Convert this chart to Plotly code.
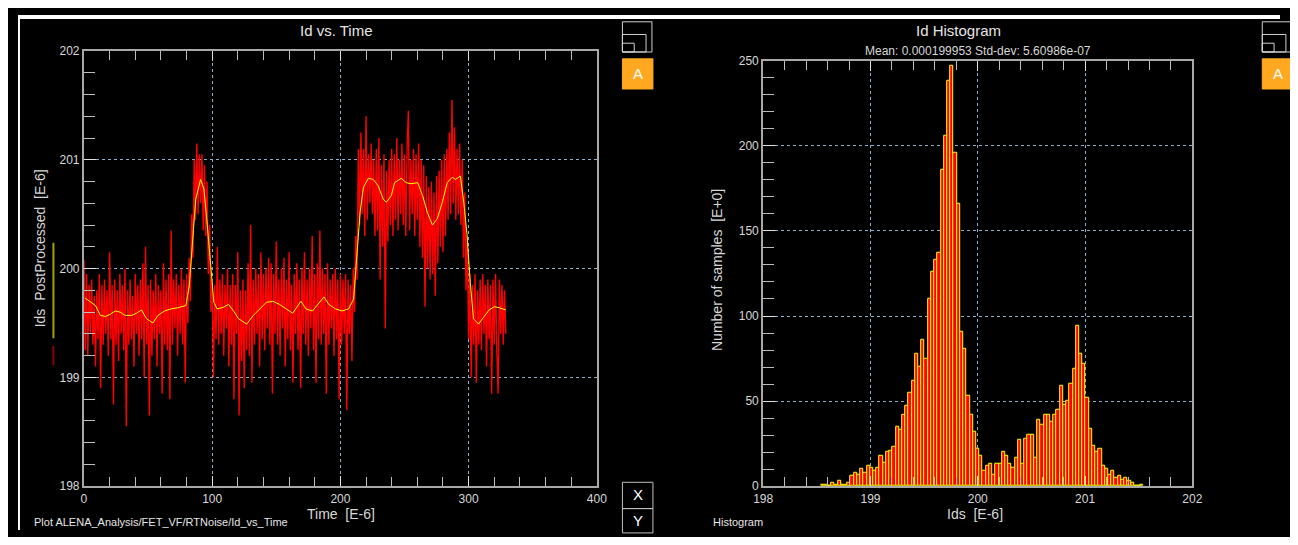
import plotly.graph_objects as go

# page is 1298x545; the browser keeps its default 8px body margin
PAGE_W, PAGE_H = 1298, 545
OX, OY = 8, 8
W, H = PAGE_W - 2 * OX, PAGE_H - 2 * OY

# ---------------- data ----------------
# Smoothed (PostProcessed) trace
smooth_time = [0.8, 9, 12.8, 16.7, 20.5, 24.4, 28.2, 32, 37.2, 41, 44.9, 48.7, 53.8, 57.7, 62.8, 68,
               73.1, 79.5, 82.1, 84.6, 87.2, 91, 93.6, 96.2, 98.7, 101.3, 103.8, 107.7, 112.8, 116.7,
               120.5, 126.9, 132.1, 137.2, 142.3, 147.4, 152.6, 157.7, 162.8, 169.2, 173.1, 178.2,
               183.3, 187.2, 191, 196.2, 201.3, 206.4, 210.3, 212.8, 215.4, 218, 221.8, 225.6, 229.5,
               233.3, 235.9, 239.7, 242.3, 247.4, 251.3, 255.1, 260.3, 264.1, 268, 271.8, 275.6,
               279.5, 283.3, 287.2, 289.7, 293.6, 296.2, 298.7, 301.3, 303.8, 307.7, 311.5, 316,
               320, 324, 329]
smooth_vals = [199.73, 199.66, 199.57, 199.56, 199.58, 199.61, 199.60, 199.57, 199.57, 199.59, 199.62,
               199.54, 199.50, 199.57, 199.61, 199.63, 199.64, 199.66, 199.84, 200.25, 200.64, 200.82,
               200.73, 200.40, 200.05, 199.69, 199.63, 199.64, 199.67, 199.61, 199.54, 199.49, 199.57,
               199.63, 199.69, 199.70, 199.67, 199.63, 199.59, 199.70, 199.63, 199.61, 199.69, 199.74,
               199.67, 199.63, 199.61, 199.63, 199.72, 200.11, 200.52, 200.75, 200.83, 200.82, 200.76,
               200.64, 200.61, 200.67, 200.79, 200.83, 200.79, 200.78, 200.79, 200.67, 200.51, 200.40,
               200.46, 200.61, 200.79, 200.84, 200.82, 200.85, 200.61, 200.32, 199.87, 199.54, 199.49,
               199.55, 199.62, 199.65, 199.64, 199.62]

# Raw Ids trace (one value per microsecond)
raw_vals = [
    200.08, 199.25, 199.95, 199.2, 199.85, 199.4, 199.9, 199.3, 199.75, 199.1,
    199.8, 199.35, 199.95, 198.9, 199.85, 199.3, 199.9, 199.4, 199.8, 199.2,
    200.15, 199.35, 199.85, 198.75, 199.9, 199.3, 199.8, 199.15, 199.95, 199.4,
    199.85, 199.25, 200.0, 198.55, 199.8, 199.3, 199.9, 199.35, 199.75, 199.1,
    199.95, 199.4, 199.85, 199.2, 199.9, 199.35, 200.05, 199.0, 200.2, 199.3,
    199.85, 198.65, 199.9, 199.2, 199.8, 199.35, 199.95, 199.1, 199.85, 199.4,
    199.8, 198.85, 200.05, 199.3, 199.9, 199.25, 199.95, 198.8, 200.35, 199.3,
    199.9, 199.45, 199.95, 199.2, 199.85, 199.4, 200.0, 199.3, 199.9, 198.95,
    199.95, 199.5, 200.1, 199.7, 200.5, 200.1, 201.0, 200.45, 201.15, 200.5,
    201.05, 200.6, 201.05, 200.35, 200.95, 200.3, 200.8, 199.95, 200.4, 199.6,
    199.9, 199.0, 199.85, 199.35, 200.2, 199.3, 199.9, 199.4, 199.95, 199.2,
    199.85, 199.45, 200.0, 199.1, 199.85, 199.3, 199.95, 198.8, 199.85, 199.4,
    200.15, 198.65, 199.8, 199.15, 199.9, 198.9, 199.8, 199.25, 200.05, 199.2,
    200.4, 198.95, 199.9, 199.3, 200.0, 199.4, 199.95, 199.1, 200.15, 199.35,
    199.95, 199.25, 200.0, 199.45, 200.1, 199.3, 200.05, 198.85, 199.95, 199.4,
    200.25, 199.3, 199.9, 199.2, 200.0, 199.45, 200.1, 199.1, 199.9, 199.35,
    200.15, 199.25, 199.85, 198.95, 199.95, 199.4, 200.05, 199.25, 199.9, 198.9,
    200.0, 199.4, 200.15, 199.3, 199.9, 199.2, 200.0, 199.45, 200.3, 199.25,
    199.95, 198.95, 200.05, 199.35, 200.35, 199.3, 200.0, 199.4, 199.95, 198.85,
    200.05, 199.3, 199.9, 199.45, 199.95, 199.2, 200.0, 199.35, 199.9, 198.8,
    199.95, 199.3, 199.9, 199.4, 199.95, 198.7, 199.9, 199.4, 199.85, 199.15,
    200.0, 199.6, 200.3, 199.9, 201.1, 200.4, 201.25, 200.5, 201.1, 200.3,
    201.4, 200.45, 201.05, 200.6, 201.15, 200.5, 201.0, 200.3, 201.1, 200.35,
    201.2, 199.9, 200.95, 200.2, 201.05, 199.45, 200.9, 200.25, 201.0, 200.4,
    201.1, 200.3, 201.05, 200.45, 201.2, 200.35, 201.0, 200.5, 201.15, 200.4,
    201.05, 200.3, 201.1, 201.45, 200.35, 201.0, 200.5, 201.1, 200.3, 201.05,
    200.45, 201.15, 200.2, 201.0, 200.1, 200.95, 199.65, 200.85, 200.0, 200.75,
    199.9, 200.8, 199.95, 200.7, 199.75, 200.85, 200.05, 200.9, 200.2, 201.0,
    200.15, 201.05, 200.3, 201.1, 200.45, 201.25, 200.5, 201.55, 200.6, 201.3,
    200.45, 201.1, 200.5, 201.15, 200.4, 201.0, 200.1, 200.7, 199.8, 200.3,
    199.35, 199.95, 199.0, 199.85, 199.3, 199.95, 198.95, 199.8, 199.3, 199.9,
    199.25, 199.95, 199.4, 199.85, 199.1, 199.9, 199.35, 199.85, 198.85, 199.9,
    199.3, 199.95, 199.25, 198.85, 199.9, 199.4, 199.85, 199.3, 199.8, 199.4,
]
raw_time = list(range(len(raw_vals)))

# Histogram of Ids (E-6): bins of equal width starting at hist_start
hist_start = 198.545
hist_width = 0.03
hist_counts = [1, 1, 0, 2, 1, 3, 1, 1, 2, 6, 8, 7, 10, 8, 12, 11, 9, 11, 18, 14,
               20, 21, 23, 35, 33, 42, 47, 55, 62, 78, 70, 86, 75, 110, 126, 133, 137, 186, 206, 238,
               247, 196, 166, 91, 81, 53, 42, 32, 22, 18, 9, 12, 13, 7, 13, 13, 20, 18, 13, 11,
               17, 27, 13, 28, 30, 30, 17, 39, 36, 42, 42, 38, 42, 45, 59, 48, 50, 60, 69, 94,
               78, 72, 52, 34, 24, 20, 22, 12, 10, 7, 9, 5, 6, 4, 5, 3, 2, 0, 0, 1]

x_ticks_time = [0, 100, 200, 300, 400]
y_ticks_ids = [198, 199, 200, 201, 202]
x_ticks_hist = [198, 199, 200, 201, 202]
y_ticks_hist = [0, 50, 100, 150, 200, 250]

hist_centers = [hist_start + (i + 0.5) * hist_width for i in range(len(hist_counts))]

# ---------------- figure ----------------
def px(x):
    return (x - OX) / W


def py(y):
    return 1 - (y - OY) / H


FONT = "Liberation Sans Narrow, Liberation Sans, Arial, sans-serif"
TXT = "#d8d8d8"
GRID = "#8fb0cc"

fig = go.Figure()

fig.add_trace(go.Scatter(x=raw_time, y=raw_vals, mode="lines",
                         line=dict(color="#ff0000", width=1.4), xaxis="x", yaxis="y",
                         hoverinfo="skip"))
fig.add_trace(go.Scatter(x=smooth_time, y=smooth_vals, mode="lines",
                         line=dict(color="#ffff00", width=1), xaxis="x", yaxis="y"))
fig.add_trace(go.Bar(x=hist_centers, y=hist_counts, width=hist_width,
                     marker=dict(color="#ff0000", line=dict(color="#ffff00", width=1)),
                     xaxis="x2", yaxis="y2"))


def axis(domain, rng, tickvals, minor_dtick, anchor, mirror, ticklen=10):
    return dict(domain=domain, range=rng, tickvals=tickvals, anchor=anchor,
                showline=True, linecolor="#a8a8a8", linewidth=2, mirror=mirror,
                ticks="inside", ticklen=ticklen, tickcolor="#e0e0e0", tickwidth=1,
                minor=dict(dtick=minor_dtick, ticks="inside", ticklen=ticklen - 1,
                           tickcolor="#bdbdbd", showgrid=False),
                showgrid=True, gridcolor=GRID, griddash="dot", gridwidth=1,
                zeroline=False, tickfont=dict(family=FONT, size=12, color=TXT),
                fixedrange=True)


fig.update_layout(
    width=W, height=H, margin=dict(l=0, r=0, t=0, b=0),
    paper_bgcolor="black", plot_bgcolor="black", showlegend=False, bargap=0,
    xaxis=axis([px(75), px(596)], [0, 400], x_ticks_time, 20, "y", "allticks"),
    yaxis=axis([py(492), py(45)], [198, 202], y_ticks_ids, 0.2, "x", True, 12),
    xaxis2=axis([px(765), px(1201)], [198, 202], x_ticks_hist, 0.2, "y2", "allticks"),
    yaxis2=axis([py(492), py(55)], [0, 250], y_ticks_hist, 10, "x2", True, 12),
)

shapes = [
    # white page strips at the top and left of the window
    dict(type="rect", xref="paper", yref="paper", x0=0, x1=1, y0=py(12), y1=1,
         fillcolor="white", line=dict(width=0), layer="below"),
    dict(type="rect", xref="paper", yref="paper", x0=0, x1=px(10), y0=0, y1=1,
         fillcolor="white", line=dict(width=0), layer="below"),
    # y-title colour keys
    dict(type="line", xref="paper", yref="paper", x0=px(44), x1=px(44), y0=py(340), y1=py(242),
         line=dict(color="#a3a300", width=2)),
    dict(type="line", xref="paper", yref="paper", x0=px(44), x1=px(44), y0=py(368), y1=py(348),
         line=dict(color="#8b0000", width=2)),
]
for bx in (622, 1272):
    shapes += [
        dict(type="rect", xref="paper", yref="paper", x0=px(bx), x1=px(bx + 30), y0=py(46), y1=py(15),
             line=dict(color="#d0d0d0", width=1)),
        dict(type="rect", xref="paper", yref="paper", x0=px(bx), x1=px(bx + 24), y0=py(46), y1=py(28),
             line=dict(color="#d0d0d0", width=1)),
        dict(type="rect", xref="paper", yref="paper", x0=px(bx), x1=px(bx + 12), y0=py(46), y1=py(37),
             line=dict(color="#d0d0d0", width=1)),
        dict(type="rect", xref="paper", yref="paper", x0=px(bx), x1=px(bx + 31), y0=py(84), y1=py(53),
             fillcolor="#ffa820", line=dict(color="#ffa820", width=1)),
    ]
shapes += [
    dict(type="rect", xref="paper", yref="paper", x0=px(622), x1=px(653), y0=py(515), y1=py(488),
         line=dict(color="#c0c0c0", width=1)),
    dict(type="rect", xref="paper", yref="paper", x0=px(622), x1=px(653), y0=py(540), y1=py(515),
         line=dict(color="#c0c0c0", width=1)),
]
fig.update_layout(shapes=shapes)


def note(text, x, y, size=12, color=TXT, angle=0, xanchor="center", yanchor="middle"):
    fig.add_annotation(text=text, x=px(x), y=py(y), xref="paper", yref="paper", showarrow=False,
                       textangle=angle, xanchor=xanchor, yanchor=yanchor,
                       font=dict(family=FONT, size=size, color=color))


note("Id vs. Time", 332, 24, 15, "#e6e6e6")
note("Id Histogram", 963, 24, 15, "#e6e6e6")
note("Mean: 0.000199953 Std-dev: 5.60986e-07", 983, 45, 12)
note("Time  [E-6]", 336, 521, 14)
note("Ids  [E-6]", 980, 521, 14)
note("Ids  PostProcessed  [E-6]", 30, 248, 14, angle=-90)
note("Number of samples  [E+0]", 718, 270, 14, angle=-90)
note("Plot ALENA_Analysis/FET_VF/RTNoise/Id_vs_Time", 22, 537, 11, "#e6e6e6",
     xanchor="left", yanchor="bottom")
note("Histogram", 712, 537, 11, "#e6e6e6", xanchor="left", yanchor="bottom")
for bx in (622, 1272):
    note("A", bx + 15.5, 68, 15, "white")
note("X", 637.5, 501, 15, "white")
note("Y", 637.5, 527, 15, "white")

fig.write_html("out.html", config={"displayModeBar": False})
